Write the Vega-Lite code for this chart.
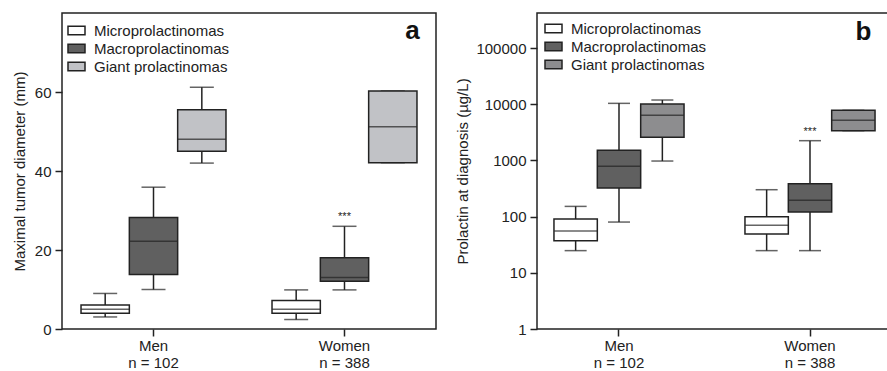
{
  "$schema": "https://vega.github.io/schema/vega-lite/v6.json",
  "padding": {"left": 11, "top": 12, "right": 0, "bottom": 0},
  "spacing": 18,
  "resolve": {"scale": {"x": "independent", "y": "independent", "xOffset": "independent", "fill": "independent"}, "legend": {"fill": "independent"}},
  "config": {
    "font": "Liberation Sans",
    "view": {"stroke": "#222", "strokeWidth": 1.5},
    "axis": {"domain": false, "grid": false, "ticks": true, "tickSize": 7, "tickColor": "#222", "tickWidth": 1.5, "labelFontSize": 15, "labelColor": "#222", "titleFontSize": 15, "titleFontWeight": "normal", "titleColor": "#222"},
    "axisX": {"labelAngle": 0, "labelLineHeight": 17, "labelPadding": 2},
    "axisY": {"labelPadding": 4, "titlePadding": 7},
    "legend": {"orient": "none", "title": null, "symbolType": "M-1,-0.5H1V0.5H-1Z", "symbolSize": 289, "symbolStrokeColor": "#222", "symbolStrokeWidth": 1.5, "labelFontSize": 15, "labelColor": "#222", "labelOffset": 8, "rowPadding": 0, "padding": 0, "labelLimit": 300}
  },
  "datasets": {
    "diam": [
      {"sex": "Men", "type": "Microprolactinomas", "min": 3.05, "q1": 4.0, "median": 5.0, "q3": 6.1, "max": 9.0, "sig": ""},
      {"sex": "Men", "type": "Macroprolactinomas", "min": 10.0, "q1": 13.8, "median": 22.2, "q3": 28.2, "max": 35.9, "sig": ""},
      {"sex": "Men", "type": "Giant prolactinomas", "min": 42.0, "q1": 45.0, "median": 48.05, "q3": 55.5, "max": 61.2, "sig": ""},
      {"sex": "Women", "type": "Microprolactinomas", "min": 2.4, "q1": 4.0, "median": 5.0, "q3": 7.2, "max": 9.9, "sig": ""},
      {"sex": "Women", "type": "Macroprolactinomas", "min": 9.9, "q1": 12.1, "median": 13.05, "q3": 18.05, "max": 26.0, "sig": "***"},
      {"sex": "Women", "type": "Giant prolactinomas", "min": 42.1, "q1": 42.1, "median": 51.2, "q3": 60.25, "max": 60.25, "sig": ""}
    ],
    "prl": [
      {"sex": "Men", "type": "Microprolactinomas", "min": 24.8, "q1": 37.3, "median": 55.4, "q3": 90.6, "max": 152, "sig": ""},
      {"sex": "Men", "type": "Macroprolactinomas", "min": 80, "q1": 323, "median": 784, "q3": 1511, "max": 10360, "sig": ""},
      {"sex": "Men", "type": "Giant prolactinomas", "min": 975, "q1": 2573, "median": 6340, "q3": 10080, "max": 11880, "sig": ""},
      {"sex": "Women", "type": "Microprolactinomas", "min": 24.8, "q1": 49, "median": 70, "q3": 99.7, "max": 301, "sig": ""},
      {"sex": "Women", "type": "Macroprolactinomas", "min": 24.8, "q1": 121, "median": 195, "q3": 385, "max": 2244, "sig": "***"},
      {"sex": "Women", "type": "Giant prolactinomas", "min": 3380, "q1": 3380, "median": 5165, "q3": 7780, "max": 7780, "sig": ""}
    ]
  },
  "hconcat": [
    {
      "width": 374,
      "height": 316,
      "data": {"name": "diam"},
      "encoding": {
        "x": {"field": "sex", "type": "nominal", "sort": ["Men", "Women"], "title": null, "scale": {"paddingInner": 0.241, "paddingOuter": 0.0996}, "axis": {"labelExpr": "datum.value == 'Men' ? ['Men', 'n = 102'] : ['Women', 'n = 388']"}},
        "xOffset": {"field": "type", "type": "nominal", "sort": ["Microprolactinomas", "Macroprolactinomas", "Giant prolactinomas"], "scale": {"paddingInner": 0, "paddingOuter": 0}}
      },
      "layer": [
        {"mark": {"type": "rule", "color": "#222", "strokeWidth": 1.5},
         "encoding": {"y": {"field": "min", "type": "quantitative", "title": "Maximal tumor diameter (mm)", "scale": {"domain": [0, 80], "nice": false}, "axis": {"values": [0, 20, 40, 60]}}, "y2": {"field": "max"}}},
        {"mark": {"type": "tick", "color": "#222", "size": 24, "thickness": 1.5},
         "encoding": {"y": {"field": "min", "type": "quantitative", "title": "Maximal tumor diameter (mm)", "scale": {"domain": [0, 80], "nice": false}}}},
        {"mark": {"type": "tick", "color": "#222", "size": 24, "thickness": 1.5},
         "encoding": {"y": {"field": "max", "type": "quantitative", "title": "Maximal tumor diameter (mm)", "scale": {"domain": [0, 80], "nice": false}}}},
        {"mark": {"type": "bar", "stroke": "#222", "strokeWidth": 1.5},
         "encoding": {
           "y": {"field": "q1", "type": "quantitative", "title": "Maximal tumor diameter (mm)", "scale": {"domain": [0, 80], "nice": false}},
           "y2": {"field": "q3"},
           "fill": {"field": "type", "type": "nominal", "scale": {"domain": ["Microprolactinomas", "Macroprolactinomas", "Giant prolactinomas"], "range": ["#ffffff", "#606060", "#c1c2c6"]}, "legend": {"legendX": 5, "legendY": 8}}
         }},
        {"mark": {"type": "tick", "color": "#222", "size": 48, "thickness": 1.5},
         "encoding": {"y": {"field": "median", "type": "quantitative", "title": "Maximal tumor diameter (mm)", "scale": {"domain": [0, 80], "nice": false}}}},
        {"transform": [{"filter": "datum.sig != ''"}],
         "mark": {"type": "text", "fontSize": 11, "color": "#222", "dy": -6, "baseline": "alphabetic"},
         "encoding": {"y": {"field": "max", "type": "quantitative", "title": "Maximal tumor diameter (mm)", "scale": {"domain": [0, 80], "nice": false}}, "text": {"field": "sig"}}},
        {"data": {"values": [{"label": "a"}]},
         "mark": {"type": "text", "fontSize": 26, "fontWeight": "bold", "color": "#111", "align": "right", "baseline": "alphabetic", "dx": 27},
         "encoding": {"x": {"datum": "Women", "type": "nominal"}, "xOffset": {"datum": "Giant prolactinomas", "type": "nominal"}, "y": {"datum": 73.4, "type": "quantitative", "scale": {"domain": [0, 80], "nice": false}}, "text": {"field": "label"}}}
      ]
    },
    {
      "width": 355,
      "height": 316,
      "data": {"name": "prl"},
      "encoding": {
        "x": {"field": "sex", "type": "nominal", "sort": ["Men", "Women"], "title": null, "scale": {"paddingInner": 0.319, "paddingOuter": 0.0888}, "axis": {"labelExpr": "datum.value == 'Men' ? ['Men', 'n = 102'] : ['Women', 'n = 388']"}},
        "xOffset": {"field": "type", "type": "nominal", "sort": ["Microprolactinomas", "Macroprolactinomas", "Giant prolactinomas"], "scale": {"paddingInner": 0, "paddingOuter": 0}}
      },
      "layer": [
        {"mark": {"type": "rule", "color": "#222", "strokeWidth": 1.5},
         "encoding": {"y": {"field": "min", "type": "quantitative", "title": "Prolactin at diagnosis (µg/L)", "scale": {"type": "log", "domain": [1, 420000], "nice": false}, "axis": {"values": [1, 10, 100, 1000, 10000, 100000], "format": "d", "titlePadding": 5}}, "y2": {"field": "max"}}},
        {"mark": {"type": "tick", "color": "#222", "size": 22, "thickness": 1.5},
         "encoding": {"y": {"field": "min", "type": "quantitative", "title": "Prolactin at diagnosis (µg/L)", "scale": {"type": "log", "domain": [1, 420000], "nice": false}}}},
        {"mark": {"type": "tick", "color": "#222", "size": 22, "thickness": 1.5},
         "encoding": {"y": {"field": "max", "type": "quantitative", "title": "Prolactin at diagnosis (µg/L)", "scale": {"type": "log", "domain": [1, 420000], "nice": false}}}},
        {"mark": {"type": "bar", "stroke": "#222", "strokeWidth": 1.5},
         "encoding": {
           "y": {"field": "q1", "type": "quantitative", "title": "Prolactin at diagnosis (µg/L)", "scale": {"type": "log", "domain": [1, 420000], "nice": false}},
           "y2": {"field": "q3"},
           "fill": {"field": "type", "type": "nominal", "scale": {"domain": ["Microprolactinomas", "Macroprolactinomas", "Giant prolactinomas"], "range": ["#ffffff", "#606060", "#8d8d8f"]}, "legend": {"legendX": 7, "legendY": 6}}
         }},
        {"mark": {"type": "tick", "color": "#222", "size": 43, "thickness": 1.5},
         "encoding": {"y": {"field": "median", "type": "quantitative", "title": "Prolactin at diagnosis (µg/L)", "scale": {"type": "log", "domain": [1, 420000], "nice": false}}}},
        {"transform": [{"filter": "datum.sig != ''"}],
         "mark": {"type": "text", "fontSize": 11, "color": "#222", "dy": -6, "baseline": "alphabetic"},
         "encoding": {"y": {"field": "max", "type": "quantitative", "title": "Prolactin at diagnosis (µg/L)", "scale": {"type": "log", "domain": [1, 420000], "nice": false}}, "text": {"field": "sig"}}},
        {"data": {"values": [{"label": "b"}]},
         "mark": {"type": "text", "fontSize": 26, "fontWeight": "bold", "color": "#111", "align": "right", "baseline": "alphabetic", "dx": 18},
         "encoding": {"x": {"datum": "Women", "type": "nominal"}, "xOffset": {"datum": "Giant prolactinomas", "type": "nominal"}, "y": {"datum": 140600, "type": "quantitative", "scale": {"type": "log", "domain": [1, 420000], "nice": false}}, "text": {"field": "label"}}}
      ]
    }
  ]
}
